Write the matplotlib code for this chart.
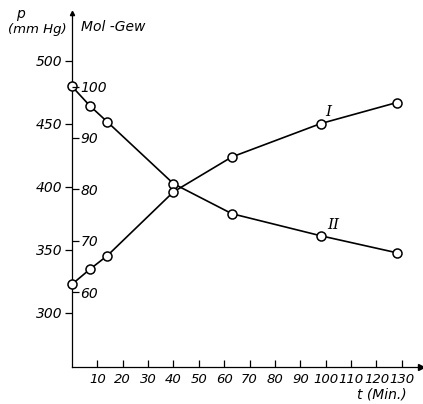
import matplotlib.pyplot as plt

# Zeit (Min)
t = [0, 7, 14, 40, 63, 98, 128]
# Kurve I: Mol-Gew
mol_gew = [61.5, 64.4, 67.1, 79.5, 86.3, 92.8, 96.9]
# Kurve II: p (mm Hg)
p_mmhg = [479.6, 464.3, 451.3, 402.4, 378.6, 361.1, 347.6]

x_ticks = [10, 20, 30, 40, 50, 60, 70, 80, 90, 100, 110, 120, 130]
p_ticks = [300, 350, 400, 450, 500]
mol_ticks = [60, 70, 80, 90, 100]

fig = plt.figure(figsize=(4.23, 4.04), dpi=100)
ax = fig.add_axes([0.170, 0.0916, 0.825, 0.877])
ax.set_xlim(0, 137.5)
ax.set_ylim(257, 538)
for s in ['top', 'right']:
    ax.spines[s].set_visible(False)
ax.spines['left'].set_linewidth(0.9)
ax.spines['bottom'].set_linewidth(0.9)

ax.set_xticks(x_ticks)
ax.set_xticklabels([str(v) for v in x_ticks], fontstyle='italic', fontsize=9.5)
ax.tick_params(axis='x', direction='in', length=5, width=0.9, pad=4)
ax.set_yticks(p_ticks)
ax.set_yticklabels([str(v) for v in p_ticks], fontstyle='italic', fontsize=10)
ax.tick_params(axis='y', direction='out', length=5, width=0.9, pad=2)

# zweite Skala (Mol-Gew) rechts an derselben Achse
ax2 = ax.twinx()
ax2.set_ylim(45.4, 114.4)
for s in ['top', 'left', 'bottom']:
    ax2.spines[s].set_visible(False)
ax2.spines['right'].set_position(('data', 0))
ax2.spines['right'].set_visible(False)
ax2.set_yticks(mol_ticks)
ax2.set_yticklabels([str(v) for v in mol_ticks], fontstyle='italic', fontsize=10)
ax2.tick_params(axis='y', direction='out', length=5, width=0.9, pad=1)

# Kurven
ax2.plot(t, mol_gew, color='black', lw=1.2, marker='o', ms=6.5,
         mfc='white', mec='black', mew=1.1, clip_on=False, zorder=5)
ax.plot(t, p_mmhg, color='black', lw=1.2, marker='o', ms=6.5,
        mfc='white', mec='black', mew=1.1, clip_on=False, zorder=5)

ax.text(101, 459, 'I', family='DejaVu Serif', fontstyle='italic', fontsize=11,
        ha='center', va='center')
ax.text(103, 370, 'II', family='DejaVu Serif', fontstyle='italic', fontsize=11,
        ha='center', va='center')

# Pfeile
ax.plot(1, 0, '>k', transform=ax.transAxes, clip_on=False, ms=4)
ax.plot(0, 1, '^k', transform=ax.transAxes, clip_on=False, ms=3)

# Achsentitel
fig.text(20 / 423, 1 - 14 / 404, 'p', fontstyle='italic', fontsize=10,
         ha='center', va='center')
fig.text(37 / 423, 1 - 29 / 404, '(mm Hg)', fontstyle='italic', fontsize=9.5,
         ha='center', va='center')
fig.text(81 / 423, 1 - 27 / 404, 'Mol -Gew', fontstyle='italic', fontsize=10,
         ha='left', va='center')
fig.text(357 / 423, 2 / 404, 't (Min.)', fontstyle='italic', fontsize=10,
         ha='left', va='bottom')

fig.savefig('out.png', dpi=100)
